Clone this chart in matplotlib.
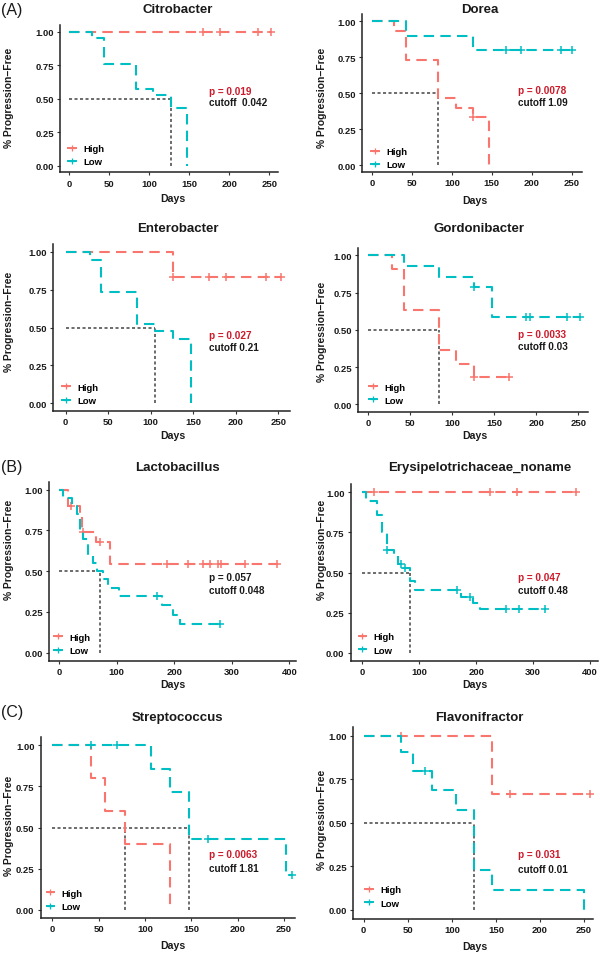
import numpy as np
import matplotlib
matplotlib.use("Agg")
import matplotlib.pyplot as plt
from matplotlib.lines import Line2D

plt.rcParams['font.family'] = ['Liberation Sans', 'DejaVu Sans']
plt.rcParams['font.weight'] = 'bold'

HIGH_COL = '#F8766D'
LOW_COL = '#00BFC4'
SIG_RED = '#CC1A2A'

# ── data: step times (days) / survival after each step / censor times ──
citro_high_t = [0, 252]
citro_high_s = [1.0, 1.0]
citro_high_c = [167, 188, 236, 252]
citro_low_t = [0, 29, 43, 84, 105, 127, 147]
citro_low_s = [1.0, 0.952, 0.762, 0.571, 0.524, 0.429, 0.0]
citro_low_c = []
citro_med = [127]

dorea_high_t = [0, 28, 42, 83, 105, 126, 147]
dorea_high_s = [1.0, 0.933, 0.733, 0.467, 0.400, 0.333, 0.0]
dorea_high_c = [126]
dorea_low_t = [0, 42, 126, 252]
dorea_low_s = [1.0, 0.90, 0.80, 0.80]
dorea_low_c = [168, 187, 237, 251]
dorea_med = [83]

entero_high_t = [0, 126, 253]
entero_high_s = [1.0, 0.833, 0.833]
entero_high_c = [126, 168, 189, 235, 253]
entero_low_t = [0, 28, 42, 84, 105, 126, 147]
entero_low_s = [1.0, 0.947, 0.737, 0.526, 0.474, 0.421, 0.0]
entero_low_c = []
entero_med = [105]

gordo_high_t = [0, 28, 42, 84, 104, 126, 168]
gordo_high_s = [1.0, 0.909, 0.636, 0.364, 0.273, 0.182, 0.182]
gordo_high_c = [126, 168]
gordo_low_t = [0, 42, 84, 126, 147, 252]
gordo_low_s = [1.0, 0.929, 0.857, 0.786, 0.589, 0.589]
gordo_low_c = [126, 188, 193, 236, 252]
gordo_med = [84]

lacto_high_t = [0, 15, 36, 40, 64, 88, 378]
lacto_high_s = [1.0, 0.90, 0.85, 0.74, 0.68, 0.545, 0.545]
lacto_high_c = [21, 41, 71, 188, 224, 250, 262, 276, 281, 323, 378]
lacto_low_t = [0, 7, 22, 30, 36, 42, 50, 58, 66, 76, 85, 104, 178, 197, 210, 280]
lacto_low_s = [1.0, 0.95, 0.90, 0.85, 0.75, 0.70, 0.60, 0.55, 0.50, 0.45, 0.40,
               0.35, 0.29, 0.23, 0.175, 0.175]
lacto_low_c = [170, 280]
lacto_med = [70]

erys_high_t = [0, 376]
erys_high_s = [1.0, 1.0]
erys_high_c = [20, 224, 271, 375]
erys_low_t = [0, 7, 25, 34, 43, 55, 63, 72, 84, 92, 174, 195, 207, 322]
erys_low_s = [1.0, 0.944, 0.861, 0.75, 0.639, 0.611, 0.556, 0.528, 0.444, 0.389,
              0.35, 0.31, 0.27, 0.27]
erys_low_c = [44, 68, 75, 166, 189, 252, 275, 321]
erys_med = [84]

strep_high_t = [0, 42, 57, 78, 127]
strep_high_s = [1.0, 0.8, 0.6, 0.4, 0.0]
strep_high_c = []
strep_low_t = [0, 106, 127, 148, 252, 260]
strep_low_s = [1.0, 0.857, 0.714, 0.429, 0.214, 0.214]
strep_low_c = [42, 70, 168, 259]
strep_med = [78, 148]

flavo_high_t = [0, 146, 258]
flavo_high_s = [1.0, 0.667, 0.667]
flavo_high_c = [42, 166, 257]
flavo_low_t = [0, 42, 56, 78, 105, 125, 146, 250]
flavo_low_s = [1.0, 0.909, 0.80, 0.686, 0.571, 0.229, 0.114, 0.0]
flavo_low_c = [70]
flavo_med = [125]

titles = ['Citrobacter', 'Dorea', 'Enterobacter', 'Gordonibacter',
          'Lactobacillus', 'Erysipelotrichaceae_noname', 'Streptococcus', 'Flavonifractor']
p_vals = ['0.019', '0.0078', '0.027', '0.0033', '0.057', '0.047', '0.0063', '0.031']
cutoffs = ['cutoff  0.042', 'cutoff 1.09', 'cutoff 0.21', 'cutoff 0.03',
           'cutoff 0.048', 'cutoff 0.48', 'cutoff 1.81', 'cutoff 0.01']

curves = [
    (citro_high_t, citro_high_s, citro_high_c, citro_low_t, citro_low_s, citro_low_c, citro_med),
    (dorea_high_t, dorea_high_s, dorea_high_c, dorea_low_t, dorea_low_s, dorea_low_c, dorea_med),
    (entero_high_t, entero_high_s, entero_high_c, entero_low_t, entero_low_s, entero_low_c, entero_med),
    (gordo_high_t, gordo_high_s, gordo_high_c, gordo_low_t, gordo_low_s, gordo_low_c, gordo_med),
    (lacto_high_t, lacto_high_s, lacto_high_c, lacto_low_t, lacto_low_s, lacto_low_c, lacto_med),
    (erys_high_t, erys_high_s, erys_high_c, erys_low_t, erys_low_s, erys_low_c, erys_med),
    (strep_high_t, strep_high_s, strep_high_c, strep_low_t, strep_low_s, strep_low_c, strep_med),
    (flavo_high_t, flavo_high_s, flavo_high_c, flavo_low_t, flavo_low_s, flavo_low_c, flavo_med),
]

# ── layout in pixels: left, right, top, bottom of panel, xlim, p-text pos (data),
#    ylabel centre y, legend offset (px from left, px from bottom)
W, H = 600, 954
layout = [
    dict(box=(60, 278, 26, 173.4), xlim=(-11.6, 260.9), txt=(175, 0.56), yl=98, leg=(8, 6)),
    dict(box=(362, 582, 15.1, 173.2), xlim=(-12.5, 262.9), txt=(183, 0.524), yl=98, leg=(9, 3)),
    dict(box=(53.3, 290, 245.1, 411.9), xlim=(-14.6, 263.7), txt=(169, 0.453), yl=322, leg=(9, 6)),
    dict(box=(358.3, 588, 248.9, 412.8), xlim=(-11.9, 261.5), txt=(178.6, 0.472), yl=332, leg=(11, 7)),
    dict(box=(49.3, 296, 482.5, 661.9), xlim=(-17.4, 411.7), txt=(261, 0.465), yl=550, leg=(5, 6)),
    dict(box=(350.7, 598, 485.3, 661.7), xlim=(-20.4, 414), txt=(274, 0.474), yl=550, leg=(8, 6)),
    dict(box=(40.7, 295, 738.1, 918.9), xlim=(-12.5, 261.9), txt=(169.4, 0.339), yl=826, leg=(6, 7)),
    dict(box=(353.3, 593, 728, 919.7), xlim=(-11.8, 260.2), txt=(175.5, 0.321), yl=820, leg=(12, 11)),
]
title_y = [10, 10, 229, 229, 468, 468, 718, 718]
days_y = [199, 201, 436, 436, 685, 685, 946, 947]


def km(ax, t, s, cens, color):
    t = np.asarray(t, float)
    s = np.asarray(s, float)
    ax.step(t, s, where='post', color=color, lw=1.5, ls=(0, (5, 3)))
    if len(cens):
        idx = np.searchsorted(t, cens, side='right') - 1
        ax.plot(cens, s[idx], ls='none', marker='+', ms=5.5, mew=1.1, color=color)


fig = plt.figure(figsize=(W / 100, H / 100), dpi=100)

for i, (cv, lay) in enumerate(zip(curves, layout)):
    ht, hs, hc, lt, ls_, lc, med = cv
    l, r, top, bot = lay['box']
    ax = fig.add_axes([l / W, 1 - bot / H, (r - l) / W, (bot - top) / H])

    # median guide lines
    ax.plot([0, max(med)], [0.5, 0.5], color='#444444', lw=1.1, ls=(0, (2, 1.6)))
    for m in med:
        ax.plot([m, m], [0, 0.5], color='#444444', lw=1.1, ls=(0, (2, 1.6)))

    km(ax, ht, hs, hc, HIGH_COL)
    km(ax, lt, ls_, lc, LOW_COL)

    ax.set_xlim(*lay['xlim'])
    ax.set_ylim(-0.05, 1.05)
    if i in (4, 5):
        ax.set_xticks([0, 100, 200, 300, 400])
    else:
        ax.set_xticks([0, 50, 100, 150, 200, 250])
    ax.set_yticks([0, 0.25, 0.5, 0.75, 1.0])
    ax.set_yticklabels(['0.00', '0.25', '0.50', '0.75', '1.00'])
    for sp in ('top', 'right'):
        ax.spines[sp].set_visible(False)
    for sp in ('left', 'bottom'):
        ax.spines[sp].set_linewidth(1.1)
        ax.spines[sp].set_color('#222222')
    ax.tick_params(length=2.5, width=0.8, color='#333333', labelsize=6.8,
                   labelcolor='#1a1a1a', pad=2)
    for lab in ax.get_xticklabels() + ax.get_yticklabels():
        lab.set_fontweight('bold')

    # p-value / cutoff annotation
    px, py = lay['txt']
    pcol = SIG_RED if float(p_vals[i]) < 0.05 else '#1a1a1a'
    ax.text(px, py, 'p = ' + p_vals[i], color=pcol, fontsize=7.2,
            fontweight='bold', va='center', ha='left')
    ax.text(px, py - 0.083, cutoffs[i], color='#1a1a1a', fontsize=7.2,
            fontweight='bold', va='center', ha='left')

    # legend
    handles = [Line2D([], [], color=HIGH_COL, lw=1.4, marker='+', ms=4, mew=0.9),
               Line2D([], [], color=LOW_COL, lw=1.4, marker='+', ms=4, mew=0.9)]
    lx, ly = lay['leg']
    ax.legend(handles, ['High', 'Low'], loc='lower left',
              bbox_to_anchor=(lx / (r - l), ly / (bot - top)), frameon=False,
              handlelength=0.8, handletextpad=0.8,
              labelspacing=0.45, borderpad=0, borderaxespad=0,
              prop=dict(weight='bold', size=6.8))

    # titles and axis labels placed like the source
    cx = 177.5 if i % 2 == 0 else 479.5
    fig.text(cx / W, 1 - title_y[i] / H, titles[i], fontsize=9.5,
             fontweight='bold', ha='center', va='center', color='#1a1a1a')
    dx = 173 if i % 2 == 0 else 475
    fig.text(dx / W, 1 - days_y[i] / H, 'Days', fontsize=7.6,
             fontweight='bold', ha='center', va='center', color='#1a1a1a')
    yx = 9 if i % 2 == 0 else 322
    fig.text(yx / W, 1 - lay['yl'] / H, '% Progression\u2212Free', fontsize=7.4,
             fontweight='bold', ha='center', va='center', rotation=90,
             color='#1a1a1a')

for lab, y in (('(A)', 10), ('(B)', 468), ('(C)', 712)):
    fig.text(0.5 / W, 1 - y / H, lab, fontsize=11.5, fontweight='normal',
             ha='left', va='center', color='#1a1a1a')

fig.savefig('out.png', dpi=100)
